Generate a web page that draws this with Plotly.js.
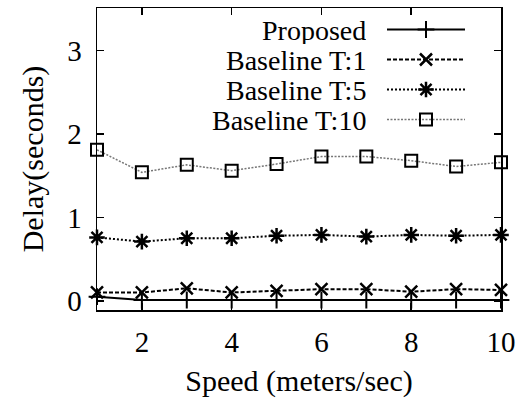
<!DOCTYPE html>
<html>
<head>
<meta charset="utf-8">
<script src="https://cdn.plot.ly/plotly-3.0.1.min.js"></script>
<style>
  html, body { margin: 0; padding: 0; background: #fff; }
  #chart { width: 532px; height: 404px; }
</style>
</head>
<body>
<div id="chart"></div>
<script>
// Delay versus node speed for the proposed scheme and three baselines
const speed = [1, 2, 3, 4, 5, 6, 7, 8, 9, 10];
const proposed  = [0.05, 0.01, 0.01, 0.01, 0.01, 0.01, 0.01, 0.01, 0.01, 0.01];
const baseT1    = [0.10, 0.10, 0.15, 0.10, 0.12, 0.14, 0.14, 0.11, 0.14, 0.13];
const baseT5    = [0.76, 0.71, 0.75, 0.75, 0.78, 0.79, 0.77, 0.79, 0.78, 0.79];
const baseT10   = [1.81, 1.54, 1.63, 1.56, 1.64, 1.73, 1.73, 1.68, 1.61, 1.66];
const seriesNames = ['Proposed', 'Baseline T:1', 'Baseline T:5', 'Baseline T:10'];
const xTicks = [2, 4, 6, 8, 10];
const yTicks = [0, 1, 2, 3];

const FONT = 'Liberation Serif, Times New Roman, serif';
const W = 532, H = 404;
const L = 97, R = 31, T = 8, B = 94;

const styles = [
  { line: { color: '#000', width: 2, dash: 'solid' },
    marker: { symbol: 'cross-thin-open', size: 12, color: '#000', line: { color: '#000', width: 2 } } },
  { line: { color: '#000', width: 2, dash: '4px,2px' },
    marker: { symbol: 'x-thin-open', size: 12, color: '#000', line: { color: '#000', width: 2.5 } } },
  { line: { color: '#000', width: 2, dash: '2px,2px' },
    marker: { symbol: 'asterisk-open', size: 13, color: '#000', line: { color: '#000', width: 2.5 } } },
  { line: { color: '#777', width: 1.5, dash: '2px,1.5px' },
    marker: { symbol: 'square-open', size: 12, color: '#000', line: { color: '#000', width: 2 } } }
];
const values = [proposed, baseT1, baseT5, baseT10];

const traces = values.map((ys, i) => ({
  x: speed, y: ys, type: 'scatter', mode: 'lines+markers',
  name: seriesNames[i], line: styles[i].line, marker: styles[i].marker,
  cliponaxis: false, showlegend: false, hoverinfo: 'skip'
}));

// Key: text on the left, line sample with marker on the right (pixel layout)
const px2x = p => (p - L) / (W - L - R);
const py2y = p => 1 - (p - T) / (H - T - B);
const keyRow0 = 29.5, keyStep = 30;
const keyTextRight = 368, keyLineStart = 387, keyLineEnd = 465;
const annotations = [];
seriesNames.forEach((name, i) => {
  const yp = keyRow0 + i * keyStep;
  traces.push({
    x: [px2x(keyLineStart), px2x(keyLineEnd)], y: [py2y(yp), py2y(yp)],
    xaxis: 'x2', yaxis: 'y2', type: 'scatter', mode: 'lines',
    line: styles[i].line, showlegend: false, hoverinfo: 'skip', cliponaxis: false
  });
  traces.push({
    x: [px2x((keyLineStart + keyLineEnd) / 2)], y: [py2y(yp)],
    xaxis: 'x2', yaxis: 'y2', type: 'scatter', mode: 'markers',
    marker: styles[i].marker, showlegend: false, hoverinfo: 'skip', cliponaxis: false
  });
  annotations.push({
    xref: 'x2', yref: 'y2', x: px2x(keyTextRight), y: py2y(yp),
    text: name, showarrow: false, xanchor: 'right', yanchor: 'middle',
    height: 28, valign: 'middle',
    font: { family: FONT, size: 28, color: '#000' }
  });
});

const axisCommon = {
  showgrid: false, zeroline: false, showline: true, mirror: 'ticks',
  linecolor: '#000', linewidth: 1.5, ticks: 'inside', ticklen: 7,
  tickwidth: 1.5, tickcolor: '#000',
  tickfont: { family: FONT, size: 29, color: '#000' }
};

const layout = {
  width: W, height: H,
  margin: { l: L, r: R, t: T, b: B },
  paper_bgcolor: '#fff', plot_bgcolor: '#fff',
  showlegend: false,
  xaxis: Object.assign({}, axisCommon, {
    range: [1, 10], tickvals: xTicks, ticktext: xTicks.map(String),
    ticklabelstandoff: 6,
    title: { text: 'Speed (meters/sec)', standoff: 12,
             font: { family: FONT, size: 30, color: '#000' } }
  }),
  yaxis: Object.assign({}, axisCommon, {
    range: [-0.11, 3.51], tickvals: yTicks, ticktext: yTicks.map(String),
    ticklabelstandoff: 8,
    title: { text: 'Delay(seconds)', standoff: 14,
             font: { family: FONT, size: 30, color: '#000' } }
  }),
  xaxis2: { overlaying: 'x', range: [0, 1], visible: false, fixedrange: true },
  yaxis2: { overlaying: 'y', range: [0, 1], visible: false, fixedrange: true },
  annotations: annotations
};

Plotly.newPlot('chart', traces, layout, { staticPlot: true, displayModeBar: false });
</script>
</body>
</html>
